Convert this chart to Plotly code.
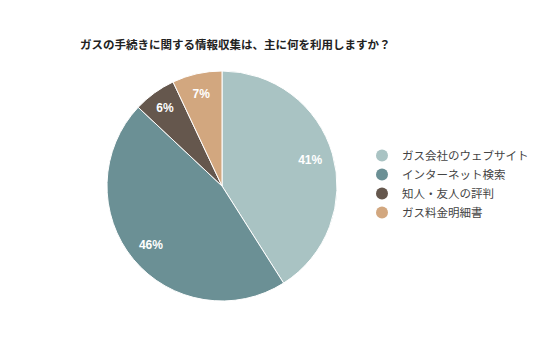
import plotly.graph_objects as go

labels = ["ガス会社のウェブサイト", "インターネット検索", "知人・友人の評判", "ガス料金明細書"]
values = [41, 46, 6, 7]
colors = ["#A9C3C3", "#6B9095", "#65574D", "#D2A77F"]

W, H = 536, 357
# pie: centre (222, 186), radius 115
L, R, T, B = 107, 536 - 337, 71, 357 - 301

fig = go.Figure()
fig.add_trace(go.Pie(
    labels=labels, values=values, sort=False, direction="clockwise", rotation=0,
    marker=dict(colors=colors, line=dict(color="white", width=1)),
    textinfo="none", hoverinfo="label+percent",
    showlegend=False, domain=dict(x=[0, 1], y=[0, 1]),
))
# transparent ring carrying the percentage labels further out (≈0.8 R)
fig.add_trace(go.Pie(
    labels=labels, values=values, sort=False, direction="clockwise", rotation=0,
    hole=0.6,
    marker=dict(colors=["rgba(0,0,0,0)"] * len(values), line=dict(width=0)),
    texttemplate="<b>%{percent:.0%}</b>", textposition="inside",
    insidetextfont=dict(color="white", size=12, family="Arial, Liberation Sans, sans-serif"),
    insidetextorientation="horizontal", hoverinfo="skip",
    showlegend=False, domain=dict(x=[0, 1], y=[0, 1]),
))
for lab, col in zip(labels, colors):
    fig.add_trace(go.Scatter(x=[None], y=[None], mode="markers", name=lab,
                             marker=dict(symbol="circle", size=10, color=col),
                             showlegend=True))
fig.update_xaxes(visible=False, domain=[0, 1])
fig.update_yaxes(visible=False, domain=[0, 1])
pw, ph = W - L - R, H - T - B
fig.update_layout(
    width=W, height=H, paper_bgcolor="white", plot_bgcolor="rgba(0,0,0,0)",
    margin=dict(l=L, r=R, t=T, b=B, autoexpand=False),
    title=dict(text="<b>ガスの手続きに関する情報収集は、主に何を利用しますか？</b>",
               x=80 / W, xanchor="left", y=1 - 45 / H, yanchor="middle",
               font=dict(size=11.5, color="#222222", family="Noto Sans CJK JP")),
    legend=dict(x=(362 - L) / pw, xanchor="left", y=(H - B - 184) / ph, yanchor="middle",
                font=dict(size=11.5, color="#444444", family="Noto Sans CJK JP"),
                itemsizing="constant", tracegroupgap=0, bgcolor="rgba(0,0,0,0)",
                itemwidth=30),
    showlegend=True,
)
fig.write_html("out.html", config={"displayModeBar": False},
               post_script="document.body.style.margin='0';")
